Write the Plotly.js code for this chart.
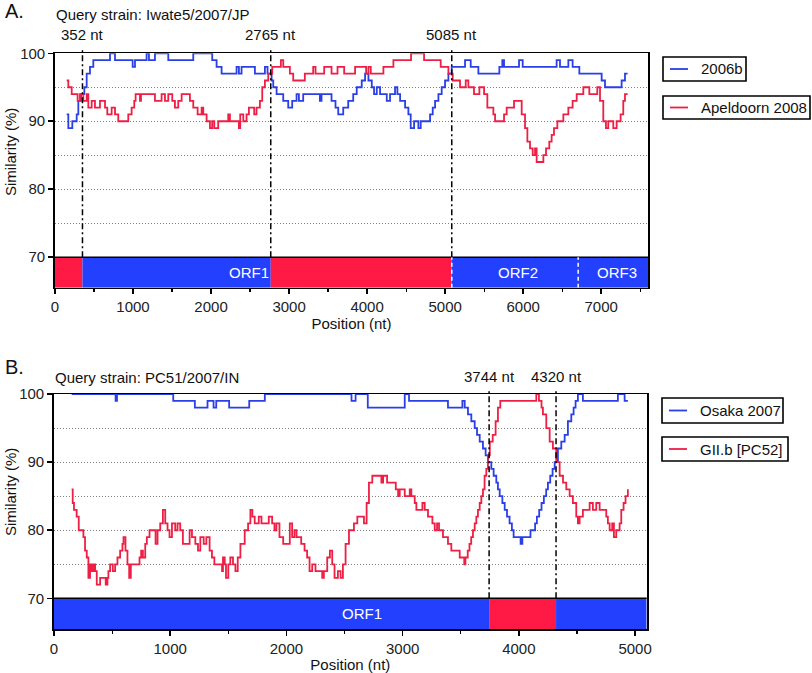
<!DOCTYPE html>
<html><head><meta charset="utf-8">
<script src="https://cdn.plot.ly/plotly-3.0.1.min.js"></script>
<style>html,body{margin:0;padding:0;background:#fff}#chart{width:812px;height:673px}</style>
</head><body><div id="chart"></div><script>
// ---------- DATA ----------
// Panel A (query strain Iwate5/2007/JP)
const TOP_2006B_POS = [150,171,222,278,299,333,376,406,448,491,705,769,995,1025,1174,1204,1281,1452,1772,2015,2071,2135,2327,2357,2391,2562,2690,2724,2776,2797,2840,2925,2989,3040,3096,3126,3181,3395,3416,3544,3595,3630,3694,3758,3822,3867,3931,3974,4017,4060,4089,4124,4166,4252,4294,4358,4388,4423,4487,4529,4559,4602,4657,4687,4807,4841,4871,4914,4956,4999,5042,5084,5255,5328,5426,5695,5733,5755,5947,5994,6429,6472,6579,6634,6720,7006,7049,7262,7305,7339];
const TOP_2006B_SIM = [91,89,90,91,93,94,95,97,98,99,100,99,98,99,100,99,100,99,100,99,98,97,98,97,98,97,98,97,96,95,94,93,92,93,94,93,94,93,94,93,92,91,92,93,94,95,96,97,96,95,94,95,94,93,94,95,94,93,92,91,89,90,89,90,91,92,93,94,95,96,97,98,99,98,97,98,99,98,99,98,99,98,99,98,97,96,95,96,97,97];
const TOP_APEL_POS = [150,171,214,290,320,363,406,427,470,512,576,641,670,726,769,811,939,982,1016,1033,1089,1102,1281,1366,1409,1452,1503,1537,1580,1623,1729,1772,1828,1879,1900,1943,1986,2015,2041,2092,2220,2242,2357,2374,2413,2455,2485,2553,2583,2626,2656,2690,2733,2784,2895,2925,3010,3053,3202,3309,3339,3450,3544,3621,3706,3846,3987,4017,4047,4209,4337,4563,4730,4943,5042,5097,5191,5264,5298,5370,5439,5499,5541,5618,5640,5755,5789,5883,5981,6024,6054,6088,6122,6152,6173,6259,6293,6335,6365,6395,6438,6515,6579,6634,6686,6771,6848,6950,6985,7027,7061,7091,7155,7198,7249,7283,7305,7339];
const TOP_APEL_SIM = [96,95,94,93,94,93,94,92,93,92,93,92,91,92,91,90,91,92,93,94,93,94,93,94,93,94,93,92,93,94,93,92,91,92,91,90,89,90,89,90,91,90,89,91,90,91,92,91,92,93,95,96,97,98,99,98,97,96,97,98,97,98,97,98,97,98,97,98,97,98,99,100,99,98,97,96,95,96,95,94,95,94,92,91,90,91,92,93,91,89,87,86,85,86,84,85,86,87,88,89,90,91,92,93,94,95,94,95,93,90,89,90,89,90,91,93,94,94];
const TOP_SERIES = ['2006b', 'Apeldoorn 2008'];
const TOP_BREAKPOINTS = [352, 2765, 5085];
const TOP_SEG_START = [0, 352, 2765, 5085];
const TOP_SEG_END = [352, 2765, 5085, 7600];
const TOP_SEG_PARENT = ['Apeldoorn 2008', '2006b', 'Apeldoorn 2008', '2006b'];
const TOP_ORF_BOUNDS = [5085, 6705];
const TOP_ORF_LABELS = ['ORF1', 'ORF2', 'ORF3'];
const TOP_ORF_LABEL_POS = [2487, 5936, 7205];

// Panel B (query strain PC51/2007/IN)
const BOT_OSAKA_POS = [152,530,542,1026,1212,1321,1373,1396,1507,1680,1814,2560,2595,2700,3018,3055,3390,3514,3534,3562,3591,3620,3640,3663,3691,3714,3734,3763,3783,3806,3820,3835,3858,3878,3898,3920,3940,3955,4015,4030,4100,4140,4155,4175,4195,4215,4235,4250,4270,4290,4308,4336,4365,4394,4422,4451,4471,4488,4508,4551,4852,4910,4938];
const BOT_OSAKA_SIM = [100,99,100,99,98,99,98,99,98,99,100,99,100,98,100,99,98,99,98,97,96,95,94,93,92,91,90,89,88,87,86,85,84,83,82,81,80,79,78,79,80,81,82,83,84,85,86,87,88,89,90,92,93,94,96,97,98,99,100,99,100,99,99];
const BOT_GIIB_POS = [152,161,172,195,213,253,267,282,296,310,325,339,354,368,397,445,460,468,483,506,526,546,569,589,598,615,632,647,661,736,750,765,785,799,822,874,891,914,937,957,977,994,1015,1043,1063,1086,1109,1167,1187,1216,1239,1259,1288,1311,1339,1359,1380,1446,1454,1469,1480,1500,1517,1540,1561,1581,1604,1641,1670,1690,1707,1727,1762,1785,1848,1877,1897,1914,1940,1972,2029,2049,2069,2087,2127,2156,2178,2199,2222,2250,2308,2322,2351,2374,2394,2414,2443,2466,2486,2509,2538,2581,2610,2667,2690,2710,2739,2817,2832,2866,2941,2961,2975,3018,3061,3075,3104,3118,3170,3190,3218,3256,3276,3296,3313,3347,3390,3419,3491,3530,3540,3560,3575,3590,3605,3620,3634,3648,3663,3677,3691,3705,3720,3734,3750,3775,3800,3820,3840,4150,4173,4195,4207,4236,4265,4293,4322,4351,4380,4408,4437,4465,4494,4508,4523,4551,4609,4637,4666,4695,4752,4766,4781,4803,4818,4838,4867,4881,4901,4918,4938];
const BOT_GIIB_SIM = [86,84,83,82,80,79,77,76,73,75,74,75,74,72,73,72,73,74,75,74,75,76,77,78,79,77,75,73,75,76,77,76,78,79,80,78,80,81,83,81,80,79,81,80,81,80,78,80,79,78,77,79,78,79,77,76,75,74,76,75,73,75,76,75,74,76,78,80,81,83,82,81,82,81,82,81,80,81,79,78,81,79,80,79,78,77,76,74,75,74,73,74,76,77,75,73,74,73,75,78,80,81,82,81,84,87,88,87,88,87,86,85,86,85,86,85,84,83,84,83,82,81,80,81,80,79,78,77,76,75,76,77,78,79,80,81,82,83,84,85,86,88,89,91,93,94,96,98,99,100,99,98,97,95,93,92,90,88,87,86,85,84,82,81,82,83,84,83,84,83,82,81,80,81,79,80,81,83,84,85,86];
const BOT_SERIES = ['Osaka 2007', 'GII.b [PC52]'];
const BOT_BREAKPOINTS = [3744, 4320];
const BOT_SEG_START = [0, 3744, 4320];
const BOT_SEG_END = [3744, 4320, 5100];
const BOT_SEG_PARENT = ['Osaka 2007', 'GII.b [PC52]', 'Osaka 2007'];
const BOT_ORF_LABELS = ['ORF1'];
const BOT_ORF_LABEL_POS = [2648];

// ---------- STYLE ----------
const W = 812, H = 673;
const FONT = 'Liberation Sans, Arial, Helvetica, sans-serif';
const LINE_BLUE = '#2A3FE6', LINE_RED = '#EE1F45';
const BAR_BLUE = '#2340FF', BAR_RED = '#FF1A45';
const Y_LO = 65.5, Y_BAR = 70, Y_HI = 100;
const px = v => v / W;
const py = v => 1 - v / H;

const colorOf = {'2006b': [LINE_BLUE, BAR_BLUE], 'Apeldoorn 2008': [LINE_RED, BAR_RED],
                 'Osaka 2007': [LINE_BLUE, BAR_BLUE], 'GII.b [PC52]': [LINE_RED, BAR_RED]};

function trace(xs, ys, name, xa, ya) {
  return {x: xs, y: ys, name: name, type: 'scatter', mode: 'lines', xaxis: xa, yaxis: ya,
          line: {shape: 'hv', width: 1.8, color: colorOf[name][0]}, showlegend: false, hoverinfo: 'skip'};
}
const data = [
  trace(TOP_2006B_POS, TOP_2006B_SIM, TOP_SERIES[0], 'x', 'y'),
  trace(TOP_APEL_POS, TOP_APEL_SIM, TOP_SERIES[1], 'x', 'y'),
  trace(BOT_OSAKA_POS, BOT_OSAKA_SIM, BOT_SERIES[0], 'x2', 'y2'),
  trace(BOT_GIIB_POS, BOT_GIIB_SIM, BOT_SERIES[1], 'x2', 'y2')
];

const shapes = [], annotations = [];
function panel(xr, yr, segS, segE, segP, bps, orfB, orfL, orfP) {
  segS.forEach((s, i) => shapes.push({type: 'rect', xref: xr, yref: yr, x0: s, x1: segE[i], y0: Y_LO, y1: Y_BAR,
    fillcolor: colorOf[segP[i]][1], line: {width: 0}, layer: 'above'}));
  shapes.push({type: 'line', xref: xr + ' domain', yref: yr, x0: 0, x1: 1, y0: Y_BAR, y1: Y_BAR,
    line: {color: '#000', width: 1.5}, layer: 'above'});
  orfB.forEach(b => shapes.push({type: 'line', xref: xr, yref: yr, x0: b, x1: b, y0: Y_LO, y1: Y_BAR,
    line: {color: '#fff', width: 1.5, dash: '4px,3px'}, layer: 'above'}));
  bps.forEach(b => shapes.push({type: 'line', xref: xr, yref: yr + ' domain', x0: b, x1: b,
    y0: (Y_BAR - Y_LO) / (Y_HI - Y_LO), y1: 1.025,
    line: {color: '#000', width: 1.5, dash: '6px,3px,2px,3px'}, layer: 'above'}));
  orfL.forEach((t, i) => annotations.push({text: t, xref: xr, yref: yr, x: orfP[i], y: (Y_LO + Y_BAR) / 2,
    showarrow: false, font: {family: FONT, size: 15, color: '#fff'}, xanchor: 'center', yanchor: 'middle'}));
}
panel('x', 'y', TOP_SEG_START, TOP_SEG_END, TOP_SEG_PARENT, TOP_BREAKPOINTS, TOP_ORF_BOUNDS, TOP_ORF_LABELS, TOP_ORF_LABEL_POS);
panel('x2', 'y2', BOT_SEG_START, BOT_SEG_END, BOT_SEG_PARENT, BOT_BREAKPOINTS, [], BOT_ORF_LABELS, BOT_ORF_LABEL_POS);

function txt(t, x, y, size, xanchor, extra) {
  annotations.push(Object.assign({text: t, xref: 'paper', yref: 'paper', x: x, y: y, showarrow: false,
    font: {family: FONT, size: size, color: '#111'}, xanchor: xanchor || 'left', yanchor: 'middle'}, extra || {}));
}
txt('A.', px(3), py(11), 20);
txt('Query strain: Iwate5/2007/JP', px(54), py(14), 15);
TOP_BREAKPOINTS.forEach(b => annotations.push({text: b + ' nt', xref: 'x', yref: 'paper', x: b, y: py(34),
  showarrow: false, font: {family: FONT, size: 15, color: '#111'}, xanchor: 'center', yanchor: 'middle'}));
txt('B.', px(3), py(367), 20);
txt('Query strain: PC51/2007/IN', px(53), py(377), 15);
BOT_BREAKPOINTS.forEach(b => annotations.push({text: b + ' nt', xref: 'x2', yref: 'paper', x: b, y: py(376),
  showarrow: false, font: {family: FONT, size: 15, color: '#111'}, xanchor: 'center', yanchor: 'middle'}));
txt('Similarity (%)', px(11), py(152), 15, 'center', {textangle: -90});
txt('Similarity (%)', px(11), py(492), 15, 'center', {textangle: -90});

// manual legends (one framed box per series)
function legendBox(name, x0, x1, y0, y1) {
  shapes.push({type: 'rect', xref: 'paper', yref: 'paper', x0: px(x0), x1: px(x1), y0: py(y1), y1: py(y0),
    line: {color: '#000', width: 1.6}, fillcolor: 'rgba(0,0,0,0)'});
  const yc = (y0 + y1) / 2;
  shapes.push({type: 'line', xref: 'paper', yref: 'paper', x0: px(x0 + 7), x1: px(x0 + 25), y0: py(yc), y1: py(yc),
    line: {color: colorOf[name][0], width: 1.8}});
  txt(name, px(x0 + 36), py(yc), 15);
}
legendBox(TOP_SERIES[0], 663, 746, 57, 81);
legendBox(TOP_SERIES[1], 663, 810, 96, 119);
legendBox(BOT_SERIES[0], 662, 783, 398, 423);
legendBox(BOT_SERIES[1], 662, 788, 437, 461);

function xAxis(dom, range, anchor) {
  return {domain: dom, range: range, anchor: anchor, showline: true, linewidth: 1.5, linecolor: '#000', mirror: true,
    ticks: 'outside', ticklen: 5, tickwidth: 1.5, tickcolor: '#000', dtick: 1000, tick0: 0, showgrid: false, zeroline: false,
    tickfont: {family: FONT, size: 15, color: '#222'},
    minor: {dtick: 500, ticks: 'outside', ticklen: 3, tickwidth: 1.2, tickcolor: '#000', showgrid: false},
    title: {text: 'Position (nt)', font: {family: FONT, size: 15, color: '#111'}, standoff: 2}};
}
function yAxis(dom, anchor) {
  return {domain: dom, range: [Y_LO, Y_HI], anchor: anchor, showline: true, linewidth: 1.8, linecolor: '#000', mirror: true,
    ticks: 'outside', ticklen: 5, tickwidth: 1.5, tickcolor: '#000', tick0: 70, dtick: 10, zeroline: false,
    showgrid: true, gridcolor: '#808080', gridwidth: 1, griddash: '1px,2px',
    minor: {dtick: 5, tick0: 70, showgrid: true, gridcolor: '#808080', gridwidth: 1, griddash: '1px,2px', ticks: ''},
    tickfont: {family: FONT, size: 15, color: '#222'}};
}

const layout = {
  width: W, height: H, margin: {l: 0, r: 0, t: 0, b: 0}, paper_bgcolor: '#fff', plot_bgcolor: '#fff',
  showlegend: false, font: {family: FONT, color: '#111'},
  xaxis: xAxis([px(55), px(648)], [0, 7600], 'y'),
  yaxis: yAxis([py(287.7), py(53.3)], 'x'),
  xaxis2: xAxis([px(54), px(646.7)], [0, 5100], 'y2'),
  yaxis2: yAxis([py(629), py(394)], 'x2'),
  shapes: shapes, annotations: annotations
};
Plotly.newPlot('chart', data, layout, {displayModeBar: false, staticPlot: true});
</script></body></html>
